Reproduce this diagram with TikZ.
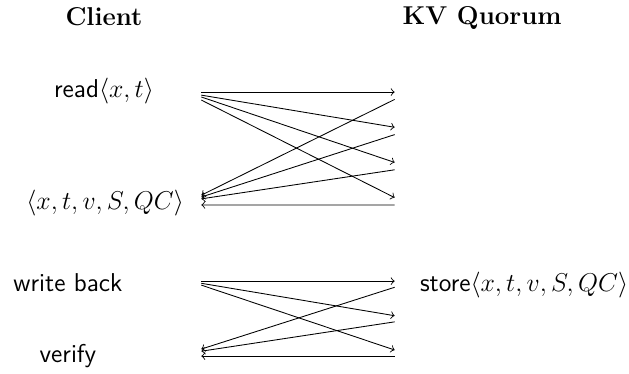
\documentclass[tikz,border=0pt]{standalone}
\usepackage{amsmath,amssymb}
\usepackage{xcolor}
\usepackage{tikz}
\usetikzlibrary{shapes,arrows}

\begin{document}
\begin{tikzpicture}[
        head/.style={anchor=base, font=\large\bfseries},
        msg/.style={anchor=base, font=\large\sffamily},
        arrow/.style={->}
    ]
        \useasboundingbox (0,0) rectangle (10.28,-6.10);
        \node[head] (client) at (1.70,-0.41) {Client};
        \node[head] (quorum) at (7.88,-0.40) {KV Quorum};
        % read phase
        \node[msg] (read) at (1.70,-1.60) {read$\langle x,t\rangle$};
        \node[msg] (resp) at (1.72,-3.43) {$\langle x,t,v,S,QC\rangle$};
        \coordinate (rd) at (3.29,-1.505);
        \coordinate (rs) at (3.29,-3.35);
        \coordinate (q1) at (6.45,-1.505);
        \coordinate (q2) at (6.45,-2.08);
        \coordinate (q3) at (6.45,-2.655);
        \coordinate (q4) at (6.45,-3.23);
        \draw[arrow] (rd) -- (q1);
        \draw[arrow] ([yshift=-0.05cm]rd) -- (q2);
        \draw[arrow] ([yshift=-0.08cm]rd) -- (q3);
        \draw[arrow] ([yshift=-0.13cm]rd) -- (q4);
        \draw[arrow] ([yshift=-0.12cm]q1) -- ([yshift=0.16cm]rs);
        \draw[arrow] ([yshift=-0.12cm]q2) -- ([yshift=0.13cm]rs);
        \draw[arrow] ([yshift=-0.12cm]q3) -- ([yshift=0.10cm]rs);
        \draw[arrow] ([yshift=-0.12cm]q4) -- (rs);
        % write back phase
        \node[msg] (wback) at (1.11,-4.76) {write back};
        \node[msg] (verify) at (1.11,-5.92) {verify};
        \node[msg, anchor=base west] (store) at (6.74,-4.77) {store$\langle x,t,v,S,QC\rangle$};
        \coordinate (wb) at (3.29,-4.595);
        \coordinate (vf) at (3.29,-5.82);
        \coordinate (w1) at (6.45,-4.595);
        \coordinate (w2) at (6.45,-5.16);
        \coordinate (w3) at (6.45,-5.72);
        \draw[arrow] (wb) -- (w1);
        \draw[arrow] ([yshift=-0.035cm]wb) -- (w2);
        \draw[arrow] ([yshift=-0.065cm]wb) -- (w3);
        \draw[arrow] ([yshift=-0.10cm]w1) -- ([yshift=0.115cm]vf);
        \draw[arrow] ([yshift=-0.10cm]w2) -- ([yshift=0.08cm]vf);
        \draw[arrow] ([yshift=-0.10cm]w3) -- (vf);
    \end{tikzpicture}
\end{document}
